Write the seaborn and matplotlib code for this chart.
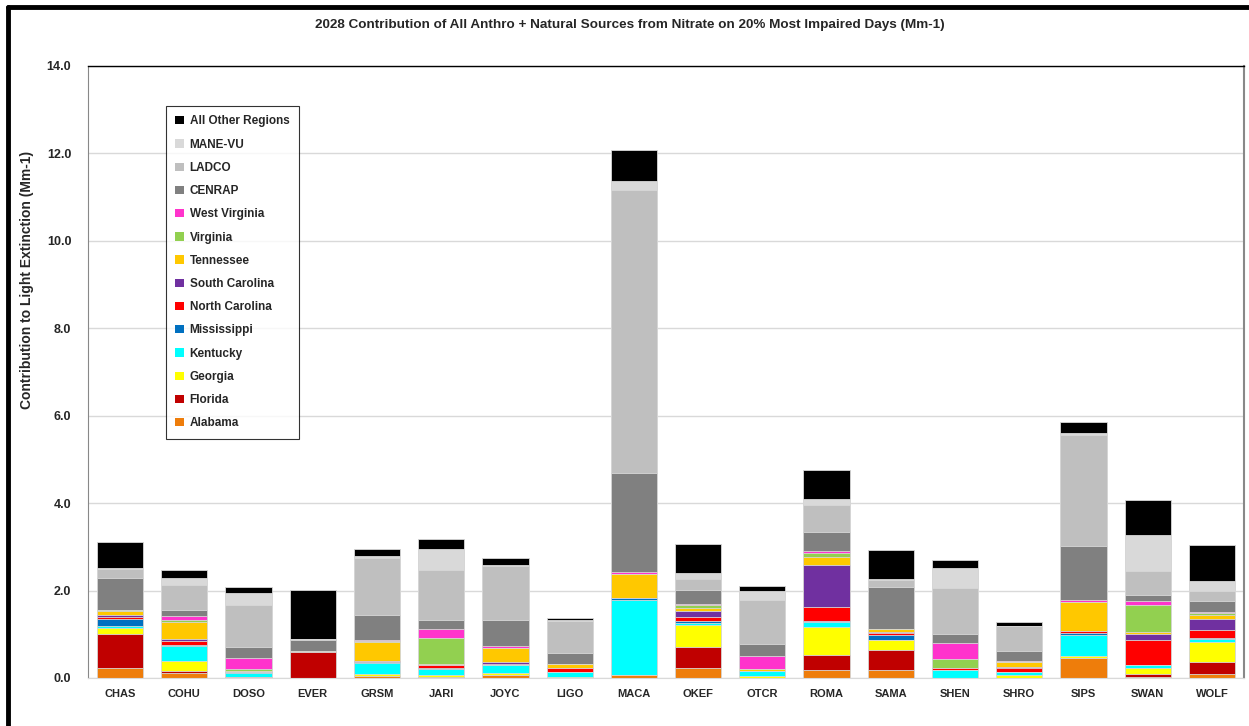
import matplotlib
matplotlib.use("Agg")
import matplotlib.pyplot as plt
from matplotlib.patches import Patch
from matplotlib.lines import Line2D
import seaborn as sns
import numpy as np
import pandas as pd

sns.set_style("white")
plt.rcParams["font.family"] = ["Liberation Sans", "DejaVu Sans"]
plt.rcParams["font.weight"] = "bold"

sites = ["CHAS", "COHU", "DOSO", "EVER", "GRSM", "JARI", "JOYC", "LIGO", "MACA",
         "OKEF", "OTCR", "ROMA", "SAMA", "SHEN", "SHRO", "SIPS", "SWAN", "WOLF"]

alabama = [0.22, 0.11, 0.01, 0.00, 0.04, 0.01, 0.06, 0.01, 0.06, 0.24, 0.01, 0.18, 0.19, 0.01, 0.01, 0.46, 0.02, 0.10]
florida = [0.78, 0.04, 0.01, 0.59, 0.01, 0.01, 0.01, 0.00, 0.00, 0.46, 0.00, 0.34, 0.46, 0.00, 0.00, 0.00, 0.08, 0.27]
georgia = [0.14, 0.24, 0.01, 0.00, 0.04, 0.05, 0.05, 0.02, 0.00, 0.51, 0.03, 0.65, 0.21, 0.00, 0.05, 0.05, 0.12, 0.46]
kentucky = [0.05, 0.35, 0.09, 0.00, 0.25, 0.14, 0.18, 0.10, 1.72, 0.05, 0.11, 0.11, 0.02, 0.17, 0.08, 0.47, 0.08, 0.07]
mississippi = [0.15, 0.01, 0.01, 0.00, 0.02, 0.01, 0.00, 0.00, 0.06, 0.04, 0.00, 0.03, 0.11, 0.00, 0.00, 0.06, 0.00, 0.02]
north_carolina = [0.05, 0.09, 0.01, 0.00, 0.02, 0.08, 0.03, 0.10, 0.00, 0.10, 0.02, 0.32, 0.04, 0.04, 0.09, 0.03, 0.58, 0.18]
south_carolina = [0.05, 0.05, 0.00, 0.00, 0.02, 0.00, 0.04, 0.00, 0.00, 0.13, 0.00, 0.95, 0.03, 0.00, 0.02, 0.00, 0.12, 0.25]
tennessee = [0.10, 0.40, 0.03, 0.01, 0.43, 0.02, 0.32, 0.08, 0.53, 0.08, 0.03, 0.19, 0.05, 0.02, 0.11, 0.66, 0.05, 0.09]
virginia = [0.01, 0.04, 0.03, 0.01, 0.01, 0.60, 0.00, 0.01, 0.00, 0.05, 0.00, 0.10, 0.00, 0.20, 0.01, 0.00, 0.61, 0.05]
west_virginia = [0.01, 0.09, 0.25, 0.00, 0.03, 0.21, 0.04, 0.01, 0.05, 0.03, 0.30, 0.04, 0.00, 0.37, 0.02, 0.05, 0.11, 0.02]
cenrap = [0.72, 0.14, 0.25, 0.27, 0.56, 0.20, 0.59, 0.25, 2.28, 0.32, 0.27, 0.44, 0.98, 0.19, 0.22, 1.24, 0.12, 0.25]
ladco = [0.22, 0.57, 0.98, 0.02, 1.31, 1.14, 1.24, 0.72, 6.47, 0.25, 1.01, 0.61, 0.15, 1.05, 0.58, 2.53, 0.56, 0.24]
mane_vu = [0.02, 0.15, 0.26, 0.00, 0.04, 0.48, 0.03, 0.02, 0.20, 0.14, 0.21, 0.13, 0.02, 0.46, 0.01, 0.05, 0.81, 0.22]
all_other = [0.59, 0.19, 0.14, 1.11, 0.17, 0.23, 0.16, 0.06, 0.70, 0.66, 0.12, 0.66, 0.66, 0.18, 0.08, 0.26, 0.82, 0.82]

sources = ["Alabama", "Florida", "Georgia", "Kentucky", "Mississippi", "North Carolina",
           "South Carolina", "Tennessee", "Virginia", "West Virginia", "CENRAP", "LADCO",
           "MANE-VU", "All Other Regions"]
values = [alabama, florida, georgia, kentucky, mississippi, north_carolina, south_carolina,
          tennessee, virginia, west_virginia, cenrap, ladco, mane_vu, all_other]
colors = ["#EE7D0B", "#C00000", "#FFFF00", "#00FFFF", "#0070C0", "#FF0000", "#7030A0",
          "#FFC800", "#92D050", "#FF33CC", "#808080", "#BFBFBF", "#D9D9D9", "#000000"]

df = pd.DataFrame(dict(zip(sources, values)), index=sites)
cum = df.cumsum(axis=1)

fig = plt.figure(figsize=(12.49, 7.26), dpi=100)
ax = fig.add_axes([88 / 1249, 48 / 726, 1156 / 1249, 612 / 726])

# stacked look: draw cumulative totals from the top layer down
for src, col in zip(reversed(sources), reversed(colors)):
    sns.barplot(x=sites, y=cum[src].values, order=sites, color=col, saturation=1,
                width=0.72, edgecolor="#D8D8D8", linewidth=0.6, ax=ax, zorder=2)

ax.set_ylim(0, 14)
ax.set_xlim(-0.5, len(sites) - 0.5)
ax.set_yticks(np.arange(0, 14.1, 2))
ax.set_yticklabels([f"{v:.1f}" for v in np.arange(0, 14.1, 2)], fontsize=9, fontweight="bold")
ax.set_xticks(range(len(sites)))
ax.set_xticklabels(sites, fontsize=8, fontweight="bold")
ax.tick_params(axis="y", length=0, pad=12)
ax.tick_params(axis="x", length=0, pad=8)
ax.set_axisbelow(True)
ax.grid(axis="y", color="#D9D9D9", linewidth=1)
ax.spines["top"].set_color("black")
ax.spines["top"].set_linewidth(1)
ax.spines["left"].set_color("#888888")
ax.spines["right"].set_color("#888888")
ax.spines["right"].set_linewidth(1.5)
ax.spines["bottom"].set_color("#D9D9D9")
ax.set_xlabel("")
ax.set_ylabel("")

fig.text(27 / 1249, 1 - 280 / 726, "Contribution to Light Extinction (Mm-1)", rotation=90,
         va="center", ha="center", fontsize=10, fontweight="bold")
fig.text(630 / 1249, 1 - 25 / 726,
         "2028 Contribution of All Anthro + Natural Sources from Nitrate on 20% Most Impaired Days (Mm-1)",
         ha="center", va="center", fontsize=9.7, fontweight="bold")

handles = [Patch(facecolor=c, edgecolor="none", label=s)
           for s, c in zip(reversed(sources), reversed(colors))]
leg = ax.legend(handles=handles, loc="upper left", bbox_to_anchor=(78 / 1156, 572 / 612),
                fontsize=8.5, frameon=True, fancybox=False, edgecolor="black",
                handlelength=0.7, handleheight=0.7, handletextpad=0.5, labelspacing=0.95,
                borderpad=0.8, borderaxespad=0)
leg.get_frame().set_linewidth(0.8)
for t in leg.get_texts():
    t.set_fontweight("bold")

# outer chart border (left and top edges visible)
fig.add_artist(Line2D([8 / 1249, 8 / 1249], [0, 1 - 7 / 726], transform=fig.transFigure,
                      color="black", linewidth=3.5))
fig.add_artist(Line2D([8 / 1249, 1], [1 - 7 / 726, 1 - 7 / 726], transform=fig.transFigure,
                      color="black", linewidth=3.5))

fig.savefig("out.png", dpi=100)
